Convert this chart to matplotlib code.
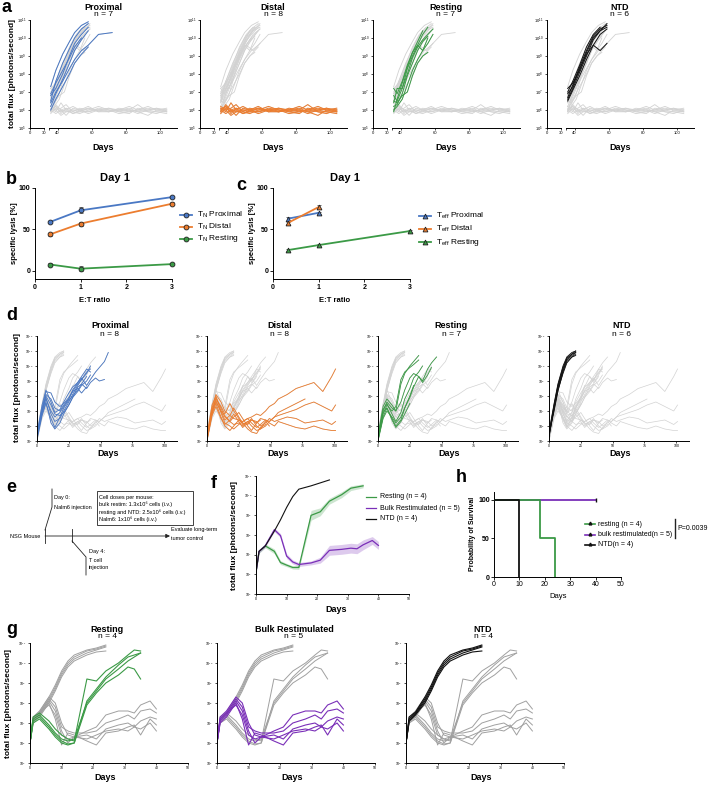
import matplotlib
matplotlib.use("Agg")
import matplotlib.pyplot as plt
import numpy as np
from matplotlib.patches import Rectangle
from matplotlib.ticker import NullLocator

plt.rcParams['font.family'] = ['Liberation Sans', 'DejaVu Sans']
plt.rcParams['mathtext.fontset'] = 'custom'
plt.rcParams['mathtext.rm'] = 'Liberation Sans'
plt.rcParams['mathtext.it'] = 'Liberation Sans:italic'
plt.rcParams['mathtext.bf'] = 'Liberation Sans:bold'
plt.rcParams['axes.linewidth'] = 0.7
plt.rcParams['axes.facecolor'] = 'none'

W, H = 708, 786

BLUE = '#4a78c4'
ORANGE = '#ec7d2f'
GREEN = '#3b9a46'
PURPLE = '#7a2fb8'
BLACK = '#111111'
LGREY = '#d2d2d2'
MGREY = '#a0a0a0'

# ---- panel a: log10 total flux, re-challenge ----
a_prox_days = [36, 39, 43, 47, 50, 54, 58, 64, 72]
a_prox_flux = [
    [7.3, 8.2, 9.1, 9.8, 10.3, 10.7, 10.9],
    [6.5, 7.6, 8.6, 9.4, 10.0, 10.5, 10.8],
    [6.8, 7.2, 8.0, 9.0, 9.7, 10.2, 10.6],
    [6.2, 6.9, 7.7, 8.6, 9.3, 9.9, 10.4],
    [6.4, 7.0, 7.6, 8.3, 8.8, 9.3, 9.6, 10.2, 10.3],
    [6.0, 6.6, 7.3, 8.0, 8.6, 9.1, 9.5],
    [6.9, 7.5, 8.2, 8.9, 9.5, 10.0],
]
a_dist_days = [36, 39, 42, 45, 49, 53, 58, 64, 70, 76, 82, 87, 93, 98, 104]
a_dist_flux = [
    [6.0, 6.2, 5.8, 6.1, 6.0, 5.9, 6.1, 6.0, 5.9, 6.0, 6.1, 5.9, 6.0, 6.1, 6.0],
    [6.1, 5.9, 6.4, 6.0, 5.8, 6.0, 6.2, 5.9, 6.0, 5.9, 6.0, 6.3, 5.9, 5.9, 5.9],
    [5.9, 6.3, 6.0, 5.7, 6.1, 6.0, 5.9, 6.1, 6.0, 6.0, 5.9, 6.0, 6.1, 6.0, 6.1],
    [6.2, 6.0, 6.1, 6.3, 5.9, 5.8, 6.0, 6.0, 6.1, 5.9, 5.8, 6.1, 6.0, 5.9, 5.8],
    [5.8, 6.1, 5.9, 6.0, 6.2, 6.0, 5.8, 6.0, 5.9, 6.1, 6.0, 5.9, 5.7, 6.0, 5.9],
    [6.0, 5.8, 6.0, 5.9, 5.9, 6.1, 6.0, 6.2, 6.0, 5.8, 5.9, 6.0, 6.2, 6.0, 6.0],
    [6.1, 6.0, 5.7, 5.9, 6.0, 6.0, 6.1, 5.9, 5.9, 6.0, 6.0, 5.8, 6.0, 6.1, 5.9],
    [5.9, 6.2, 6.0, 6.1, 5.8, 5.9, 5.9, 6.0, 6.1, 6.0, 6.2, 6.0, 5.9, 5.8, 6.0],
]
a_rest_days = [36, 38, 41, 44, 47, 50, 53, 56, 59]
a_rest_flux = [
    [6.8, 6.5, 7.2, 8.3, 9.0, 9.6, 10.2, 10.6],
    [5.9, 6.6, 7.5, 8.4, 9.2, 9.8, 10.4],
    [6.4, 7.2, 7.2, 8.0, 8.9, 9.5, 9.9, 10.2, 10.5],
    [6.2, 6.3, 6.9, 7.9, 8.6, 9.3, 9.8, 10.1],
    [7.2, 6.9, 7.6, 8.5, 9.2, 9.6, 9.3, 10.0],
    [6.0, 6.2, 6.6, 7.4, 8.2, 8.8, 9.3, 9.7, 10.2],
    [6.5, 6.4, 6.8, 7.0, 7.9, 8.6, 9.0, 9.2],
]
a_ntd_days = [36, 39, 43, 47, 51, 55, 59]
a_ntd_flux = [
    [6.6, 7.2, 8.1, 9.0, 9.9, 10.4, 10.8],
    [6.7, 7.4, 8.4, 9.3, 10.1, 10.5, 10.7],
    [7.0, 7.6, 8.5, 9.5, 10.2, 10.6],
    [6.5, 7.1, 7.9, 8.8, 9.6, 10.2, 10.5],
    [6.9, 7.3, 8.3, 9.1, 9.6, 9.3, 9.7],
    [7.2, 7.5, 8.2, 9.2, 10.0, 10.4, 10.6],
]

# ---- panels b, c: specific lysis ----
et_ratio = [1 / 3, 1, 3]
b_prox = [59, 73, 89]
b_prox_err = [1.5, 3.5, 1.5]
b_dist = [44, 57, 81]
b_dist_err = [1.5, 2.5, 1.5]
b_rest = [7.5, 2.5, 8]
b_rest_err = [1.5, 3.0, 1.5]
c_prox = [63, 70]
c_prox_err = [2.5, 1.5]
c_dist = [58, 77]
c_dist_err = [2.0, 2.0]
c_rest = [25, 31, 48]
c_rest_err = [1.5, 1.5, 1.0]

# ---- panel d: log10 total flux, primary challenge ----
d_days = [0, 4, 7, 11, 14, 18, 21, 25, 28, 32, 35, 39, 42, 46, 49, 53, 56,
          63, 70, 77, 84, 91, 98, 101]
d_prox_flux = [
    [5.4, 7.2, 8.3, 8.2, 7.6, 7.3, 7.5, 7.9, 8.3, 8.8, 9.1, 9.5, 10.0],
    [5.2, 7.0, 8.1, 7.8, 7.2, 7.0, 7.4, 7.8, 8.4, 8.9, 9.3, 9.8, 9.6],
    [5.5, 7.4, 8.4, 7.6, 6.9, 7.1, 7.6, 8.2, 8.6, 8.9, 9.2, 8.7, 9.1, 9.6, 9.9, 10.3, 10.9],
    [5.3, 6.9, 7.8, 7.0, 6.6, 6.9, 7.3, 7.8, 8.3, 8.5, 8.2, 8.6],
    [5.1, 6.7, 7.5, 6.5, 5.9, 6.6, 7.2, 7.7, 8.0, 8.4, 8.8, 8.5, 8.9, 9.2, 9.0, 9.1],
    [5.4, 7.1, 8.0, 7.4, 6.8, 6.7, 6.9, 7.4, 7.9, 8.6, 8.8, 9.3],
    [5.2, 6.8, 7.6, 6.2, 5.8, 6.2, 6.8, 7.4, 7.9, 8.3, 8.7, 9.0, 9.4],
    [5.3, 7.0, 7.9, 6.8, 6.3, 6.5, 7.0, 7.6, 8.1, 8.7, 9.1, 9.6, 9.8],
]
d_dist_flux = [
    [5.3, 7.2, 8.1, 7.6, 7.0, 6.7, 6.5, 6.4, 6.3, 6.5, 6.6, 6.8, 6.7, 7.0, 7.3, 7.5,
     7.8, 8.1, 8.5, 8.7, 8.9, 8.3, 9.3, 9.8],
    [5.1, 6.9, 7.9, 7.2, 6.6, 6.3, 6.1, 6.2, 6.0, 6.3, 6.4, 6.2, 6.5, 6.4, 6.3, 6.6,
     6.7, 6.9, 7.1, 7.4, 7.6, 7.3, 7.0, 7.4],
    [5.4, 7.4, 8.0, 7.0, 6.4, 6.7, 7.2, 6.6, 6.2, 6.1, 6.4, 6.3, 6.0, 6.2, 6.5, 6.3,
     6.4, 6.6, 6.5, 6.2, 6.3, 6.4, 6.1, 6.3],
    [5.2, 7.0, 7.7, 6.9, 6.2, 6.0, 5.8, 6.1, 6.3, 6.5, 6.2, 5.9, 6.1, 6.4, 6.2, 6.0,
     6.3, 6.1, 5.9, 5.8, 6.0, 5.8, 5.7, 5.7],
    [5.3, 7.1, 7.8, 7.3, 6.8, 7.5, 7.0, 6.5, 6.1, 6.3, 6.0, 5.7, 5.8, 6.0, 6.3, 6.6,
     6.9, 7.2, 7.5, 7.8],
    [5.0, 6.8, 7.5, 6.6, 6.0, 5.7, 6.0, 6.4, 6.2, 5.8, 5.6, 5.5, 5.9, 6.1],
    [5.2, 6.9, 7.6, 7.0, 6.7, 6.3, 6.6, 6.9, 6.5, 6.0, 5.7, 6.2, 6.4],
    [5.1, 6.7, 7.3, 6.5, 6.1, 6.4, 6.8, 6.3, 5.9, 6.2, 6.5, 6.0, 5.8, 6.3, 6.0],
]
d_rest_flux = [
    [5.2, 7.0, 7.6, 7.2, 7.0, 8.8, 9.5, 10.0, 10.3, 10.7],
    [5.0, 6.8, 7.4, 7.0, 7.3, 9.1, 9.6, 9.9, 10.1, 10.4],
    [5.3, 7.1, 7.5, 6.8, 6.3, 6.9, 7.8, 8.5, 9.2, 9.6, 10.0],
    [5.1, 6.6, 7.2, 6.5, 6.0, 6.4, 7.2, 7.9, 8.6, 9.3, 9.0, 9.8, 10.2, 10.6],
    [5.4, 7.3, 7.8, 7.4, 7.0, 7.6, 8.4, 9.2, 9.5, 9.3, 8.9, 9.4, 9.9],
    [5.2, 6.9, 7.2, 6.4, 5.9, 6.3, 6.8, 7.5],
    [5.0, 6.5, 7.0, 6.6, 6.2, 6.6, 7.2, 8.0, 8.7],
]
d_ntd_flux = [
    [5.5, 7.4, 8.7, 9.9, 10.5, 10.8, 11.0],
    [5.3, 7.2, 8.5, 9.7, 10.4, 10.7, 10.9],
    [5.6, 7.5, 8.8, 10.0, 10.6, 10.9, 11.0],
    [5.4, 7.0, 8.3, 9.6, 10.3, 10.6, 10.8],
    [5.2, 7.3, 8.6, 9.8, 10.5, 10.8, 10.9],
    [5.5, 7.1, 8.4, 9.5, 10.2, 10.6, 10.7],
]

# ---- panel f: group means (log10) with SEM band ----
f_rest_days = [0, 1, 3, 6, 8, 10, 12, 14, 18, 21, 24, 28, 31, 35]
f_rest = [6.1, 7.17, 7.45, 7.17, 6.6, 6.47, 6.35, 6.35, 9.0, 9.18, 9.72, 10.05, 10.38, 10.5]
f_rest_sem = [0.05, 0.1, 0.1, 0.12, 0.1, 0.08, 0.08, 0.1, 0.25, 0.2, 0.15, 0.15, 0.12, 0.1]
f_bulk_days = [0, 1, 3, 6, 8, 10, 12, 14, 18, 21, 24, 28, 31, 33, 35, 38, 40]
f_bulk = [6.1, 7.17, 7.45, 8.27, 7.97, 6.93, 6.63, 6.5, 6.58, 6.72, 7.22, 7.27, 7.33, 7.3,
          7.5, 7.72, 7.47]
f_bulk_sem = [0.05, 0.08, 0.08, 0.1, 0.1, 0.12, 0.1, 0.1, 0.1, 0.15, 0.25, 0.25, 0.25,
              0.25, 0.25, 0.2, 0.2]
f_ntd_days = [0, 1, 3, 6, 8, 10, 12, 14, 18, 21, 24]
f_ntd = [6.1, 7.17, 7.43, 8.2, 8.77, 9.4, 9.95, 10.33, 10.5, 10.65, 10.8]

# ---- panel g: individual mice (log10) ----
g_days = [0, 1, 3, 6, 8, 10, 12, 14, 18, 21, 24, 28, 31, 33, 35, 38, 40]
g_rest_flux = [
    [6.0, 7.3, 7.5, 7.1, 6.7, 6.4, 6.2, 6.1, 9.2, 9.1, 9.6, 10.0, 10.4, 10.65, 10.6],
    [6.0, 7.2, 7.4, 6.9, 6.5, 6.2, 6.1, 6.2, 8.0, 8.6, 9.2, 9.7, 10.1, 10.3, 10.5],
    [6.0, 7.1, 7.3, 6.8, 6.4, 6.1, 5.95, 6.0, 7.9, 8.5, 9.0, 9.4, 9.8, 9.7, 9.2],
    [6.0, 7.0, 7.2, 6.7, 6.3, 6.0, 5.9, 6.0, 8.1, 8.7, 9.3, 9.9, 10.3, 10.4, 10.5],
]
g_bulk_flux = [
    [6.1, 7.3, 7.6, 8.3, 8.0, 7.0, 6.4, 6.3, 6.6, 6.8, 7.4, 7.6, 7.6, 7.5, 7.9, 8.1, 7.7],
    [6.0, 7.2, 7.5, 8.2, 7.8, 6.8, 6.6, 6.5, 6.5, 6.6, 7.0, 7.2, 7.4, 7.2, 7.6, 7.7, 7.5],
    [6.0, 7.1, 7.4, 8.1, 7.6, 6.6, 6.0, 6.3, 6.4, 6.2, 6.7, 6.9, 7.0, 6.8, 7.1, 7.3, 7.2],
    [6.0, 7.0, 7.3, 8.0, 7.2, 5.9, 6.5, 6.4, 6.1, 5.9, 6.5, 6.6, 6.8, 6.9, 6.4, 7.2, 6.9],
    [6.0, 7.2, 7.5, 7.9, 7.4, 6.4, 6.2, 6.3, 6.2, 6.4, 6.6, 6.7, 6.6, 6.8, 6.7, 7.0, 6.6],
]
g_ntd_flux = [
    [6.0, 7.2, 7.5, 8.2, 8.8, 9.5, 10.0, 10.3, 10.6, 10.7, 10.85],
    [6.0, 7.1, 7.45, 8.1, 8.7, 9.4, 9.9, 10.2, 10.5, 10.65, 10.8],
    [6.0, 7.3, 7.55, 8.3, 8.9, 9.6, 10.1, 10.4, 10.65, 10.75, 10.9],
    [6.0, 7.1, 7.4, 8.0, 8.6, 9.3, 9.8, 10.1, 10.4, 10.55, 10.6],
]

# ---- panel h: survival ----
h_rest_days = [0, 18, 24]
h_rest_surv = [100, 50, 0]
h_bulk_days = [0, 40]
h_bulk_surv = [100, 100]
h_ntd_days = [0, 10]
h_ntd_surv = [100, 0]


def box(x0, y0, x1, y1):
    return [x0 / W, 1 - y1 / H, (x1 - x0) / W, (y1 - y0) / H]


def clean(ax):
    ax.spines['top'].set_visible(False)
    ax.spines['right'].set_visible(False)


def log_y(ax, lo, hi, fs=3):
    ax.set_yscale('log')
    ax.set_ylim(10 ** lo, 10 ** hi)
    ax.set_yticks([10.0 ** k for k in range(lo, hi + 1)])
    ax.yaxis.set_minor_locator(NullLocator())
    ax.tick_params(axis='both', labelsize=fs, length=1.5, width=0.5, pad=1)


def draw_mice(ax, days, flux, color, lw):
    for vals in flux:
        ax.plot(days[:len(vals)], 10 ** np.array(vals), color=color, lw=lw)


fig = plt.figure(figsize=(W / 100, H / 100), dpi=100)
ov = fig.add_axes([0, 0, 1, 1], zorder=10)
ov.set_xlim(0, W)
ov.set_ylim(H, 0)
ov.set_axis_off()

# panel letters
for letter, x, y in [('a', 2, 8), ('b', 6, 180), ('c', 236, 185), ('d', 6, 316),
                     ('e', 6, 488), ('f', 211, 483), ('g', 6, 629), ('h', 456, 478)]:
    ov.text(x, y, letter, fontsize=13, fontweight='bold', va='center', ha='left')

# ---------------- panel a ----------------
a_sets = [(a_prox_days, a_prox_flux), (a_dist_days, a_dist_flux),
          (a_rest_days, a_rest_flux), (a_ntd_days, a_ntd_flux)]
a_info = [('Proximal', 'n = 7', BLUE), ('Distal', 'n = 8', ORANGE),
          ('Resting', 'n = 7', GREEN), ('NTD', 'n = 6', BLACK)]
for i, x0 in enumerate([30, 200, 373, 547]):
    axs = fig.add_axes(box(x0, 20, x0 + 14, 128))
    axm = fig.add_axes(box(x0 + 19, 20, x0 + 147, 128))
    for ax in (axs, axm):
        clean(ax)
        log_y(ax, 5, 11)
    axs.set_xlim(0, 30)
    axs.set_xticks([0, 30])
    axm.set_xlim(35, 110)
    axm.set_xticks([35, 40, 60, 80, 100])
    axm.set_xticklabels(['', '40', '60', '80', '100'])
    axm.spines['left'].set_visible(False)
    axm.tick_params(axis='y', left=False, labelleft=False)
    for days, flux in a_sets:
        draw_mice(axm, days, flux, LGREY, 0.6)
    days, flux = a_sets[i]
    name, n, col = a_info[i]
    draw_mice(axm, days, flux, col, 0.7)
    ov.text(x0 + 73, 7, name, fontsize=6.5, fontweight='bold', ha='center', va='center')
    ov.text(x0 + 73, 15, n, fontsize=6, ha='center', va='center')
    ov.text(x0 + 73, 147, 'Days', fontsize=6.5, fontweight='bold', ha='center', va='center')
ov.text(13, 74, 'total flux [photons/second]', fontsize=6, fontweight='bold',
        rotation=90, ha='center', va='center')

# ---------------- panels b, c ----------------
def lysis_axes(x0, x1):
    ax = fig.add_axes(box(x0, 188, x1, 279))
    clean(ax)
    ax.set_xlim(0, 3)
    ax.set_ylim(-10, 100)
    ax.set_xticks([0, 1, 2, 3])
    ax.set_yticks([0, 50, 100])
    ax.tick_params(labelsize=5, length=2, width=0.6, pad=1.5)
    for lab in ax.get_xticklabels() + ax.get_yticklabels():
        lab.set_fontweight('bold')
    return ax


axb = lysis_axes(35, 172)
for vals, err, col in [(b_prox, b_prox_err, BLUE), (b_dist, b_dist_err, ORANGE),
                       (b_rest, b_rest_err, GREEN)]:
    axb.errorbar(et_ratio, vals, yerr=err, color=col, lw=1.3, marker='o', ms=3.5,
                 mfc=col, mec='#222222', mew=0.6, ecolor='#555555', elinewidth=0.6,
                 capsize=1.2, clip_on=False)
ov.text(115, 178, 'Day 1', fontsize=8, fontweight='bold', ha='center', va='center')
ov.text(95, 300, 'E:T ratio', fontsize=5.5, fontweight='bold', ha='center', va='center')
ov.text(15, 233, 'specific lysis [%]', fontsize=5.5, fontweight='bold', rotation=90,
        ha='center', va='center')

axc = lysis_axes(273, 410)
for xs, vals, err, col in [(et_ratio[:2], c_prox, c_prox_err, BLUE),
                           (et_ratio[:2], c_dist, c_dist_err, ORANGE),
                           (et_ratio, c_rest, c_rest_err, GREEN)]:
    axc.errorbar(xs, vals, yerr=err, color=col, lw=1.3, marker='^', ms=3.5,
                 mfc=col, mec='#222222', mew=0.6, ecolor='#555555', elinewidth=0.6,
                 capsize=1.2, clip_on=False)
ov.text(345, 178, 'Day 1', fontsize=8, fontweight='bold', ha='center', va='center')
ov.text(335, 300, 'E:T ratio', fontsize=5.5, fontweight='bold', ha='center', va='center')
ov.text(252, 233, 'specific lysis [%]', fontsize=5.5, fontweight='bold', rotation=90,
        ha='center', va='center')

# legends for b and c
for j, (col, lab) in enumerate([(BLUE, 'Proximal'), (ORANGE, 'Distal'), (GREEN, 'Resting')]):
    y = 215 + j * 12
    ov.plot([180, 192], [y, y], color=col, lw=1.3)
    ov.plot([186], [y], marker='o', ms=3.5, color=col, mec='#222222', mew=0.6)
    ov.text(197, y, r'T$_{\mathregular{N}}$ ' + lab, fontsize=6, va='center', ha='left')
    y = 216 + j * 13
    ov.plot([419, 431], [y, y], color=col, lw=1.3)
    ov.plot([425], [y], marker='^', ms=3.5, color=col, mec='#222222', mew=0.6)
    ov.text(436, y, r'T$_{\mathregular{eff}}$ ' + lab, fontsize=6, va='center', ha='left')

# ---------------- panel d ----------------
d_sets = [d_prox_flux, d_dist_flux, d_rest_flux, d_ntd_flux]
d_info = [('Proximal', 'n = 8', BLUE), ('Distal', 'n = 8', ORANGE),
          ('Resting', 'n = 7', GREEN), ('NTD', 'n = 6', BLACK)]
for i, x0 in enumerate([37, 207, 378, 549]):
    ax = fig.add_axes(box(x0, 336, x0 + 140, 441))
    clean(ax)
    log_y(ax, 5, 12, fs=2.5)
    ax.set_xlim(0, 110)
    ax.set_xticks([0, 25, 50, 75, 100])
    for flux in d_sets:
        draw_mice(ax, d_days, flux, LGREY, 0.5)
    name, n, col = d_info[i]
    draw_mice(ax, d_days, d_sets[i], col, 0.6)
    ov.text(x0 + 73, 326, name, fontsize=6.5, fontweight='bold', ha='center', va='center')
    ov.text(x0 + 73, 335, n, fontsize=6, ha='center', va='center')
    ov.text(x0 + 71, 453, 'Days', fontsize=6.5, fontweight='bold', ha='center', va='center')
ov.text(18, 388, 'total flux [photons/second]', fontsize=6, fontweight='bold',
        rotation=90, ha='center', va='center')

# ---------------- panel e (schematic) ----------------
kw = dict(color='#222222', lw=0.6)
ov.annotate('', xy=(170, 536), xytext=(45, 536),
            arrowprops=dict(arrowstyle='-|>', lw=0.6, color='#222222', mutation_scale=6,
                            shrinkA=0, shrinkB=0))
ov.plot([45, 45], [529, 543], **kw)
ov.plot([45, 52, 52], [530, 507, 489], **kw)
ov.plot([72, 72], [529, 542], **kw)
ov.plot([72, 86, 86], [541, 557, 575], **kw)
efs = 4.0
ov.text(10, 536, 'NSG Mouse', fontsize=efs, va='center', ha='left')
ov.text(54, 498, 'Day 0:', fontsize=efs, va='center', ha='left')
ov.text(54, 507, 'Nalm6 injection', fontsize=efs, va='center', ha='left')
ov.text(89, 552, 'Day 4:', fontsize=efs, va='center', ha='left')
ov.text(89, 560, 'T cell', fontsize=efs, va='center', ha='left')
ov.text(89, 568, 'injection', fontsize=efs, va='center', ha='left')
ov.text(171, 530, 'Evaluate long-term', fontsize=efs, va='center', ha='left')
ov.text(171, 539, 'tumor control', fontsize=efs, va='center', ha='left')
ov.add_patch(Rectangle((97, 491), 96, 34, fill=False, lw=0.6, ec='#222222'))
for k, line in enumerate(['Cell doses per mouse:',
                          'bulk restim: 1.3x10\u2076 cells (i.v.)',
                          'resting and NTD: 2.5x10\u2076 cells (i.v.)',
                          'Nalm6: 1x10\u2076 cells (i.v.)']):
    ov.text(99, 497 + k * 7.5, line, fontsize=efs, va='center', ha='left')

# ---------------- panel f ----------------
axf = fig.add_axes(box(256, 476, 409, 594))
clean(axf)
log_y(axf, 5, 11, fs=2.5)
axf.set_xlim(0, 50)
axf.set_xticks([0, 10, 20, 30, 40, 50])
for days, mean, sem, col in [(f_rest_days, f_rest, f_rest_sem, GREEN),
                             (f_bulk_days, f_bulk, f_bulk_sem, PURPLE)]:
    m = np.array(mean)
    s = np.array(sem)
    axf.fill_between(days, 10 ** (m - s), 10 ** (m + s), color=col, alpha=0.25, lw=0)
    axf.plot(days, 10 ** m, color=col, lw=0.9)
axf.plot(f_ntd_days, 10 ** np.array(f_ntd), color=BLACK, lw=0.8)
ov.text(336, 610, 'Days', fontsize=6.5, fontweight='bold', ha='center', va='center')
ov.text(235, 535, 'total flux [photons/second]', fontsize=6, fontweight='bold',
        rotation=90, ha='center', va='center')
for j, (col, lab) in enumerate([(GREEN, 'Resting (n = 4)'),
                                (PURPLE, 'Bulk Restimulated (n = 5)'),
                                (BLACK, 'NTD (n = 4)')]):
    y = 497 + j * 11
    ov.plot([366, 376], [y, y], color=col, lw=0.9)
    ov.text(380, y, lab, fontsize=5, va='center', ha='left')

# ---------------- panel h ----------------
axh = fig.add_axes(box(494, 492, 621, 577))
clean(axh)
axh.set_xlim(0, 50)
axh.set_ylim(0, 110)
axh.set_xticks([0, 10, 20, 30, 40, 50])
axh.set_yticks([0, 50, 100])
axh.tick_params(labelsize=5, length=2, width=0.6, pad=1)
for lab in axh.get_yticklabels():
    lab.set_fontweight('bold')
axh.step(h_bulk_days, h_bulk_surv, where='post', color=PURPLE, lw=1.3, zorder=2)
axh.step(h_rest_days, h_rest_surv, where='post', color=GREEN, lw=1.3, zorder=3)
axh.step(h_ntd_days, h_ntd_surv, where='post', color=BLACK, lw=1.3, zorder=4)
axh.plot([h_bulk_days[-1]], [h_bulk_surv[-1]], marker='|', ms=3, color=BLACK, mew=1)
ov.text(558, 596, 'Days', fontsize=5.5, ha='center', va='center')
ov.text(473, 534, 'Probability of Survival', fontsize=5, fontweight='bold', rotation=90,
        ha='center', va='center')
for j, (col, lab) in enumerate([(GREEN, 'resting (n = 4)'),
                                (PURPLE, 'bulk restimulated(n = 5)'),
                                (BLACK, 'NTD(n = 4)')]):
    y = 524 + j * 10.5
    ov.plot([585, 595], [y, y], color=col, lw=1.2)
    ov.plot([590], [y - 1], marker='^', ms=2, color=BLACK)
    ov.text(598, y, lab, fontsize=5, va='center', ha='left')
ov.plot([675, 675], [519, 538], color='#222222', lw=1.0)
ov.text(677, 529, 'P=0.0039', fontsize=5, va='center', ha='left')

# ---------------- panel g ----------------
g_sets = [g_rest_flux, g_bulk_flux, g_ntd_flux]
g_info = [('Resting', 'n = 4', GREEN), ('Bulk Restimulated', 'n = 5', PURPLE),
          ('NTD', 'n = 4', BLACK)]
for i, x0 in enumerate([30, 217, 406]):
    ax = fig.add_axes(box(x0, 643, x0 + 158, 763))
    clean(ax)
    log_y(ax, 5, 11, fs=2.5)
    ax.set_xlim(0, 50)
    ax.set_xticks([0, 10, 20, 30, 40, 50])
    for k, flux in enumerate(g_sets):
        if k != i:
            draw_mice(ax, g_days, flux, MGREY, 0.7)
    name, n, col = g_info[i]
    draw_mice(ax, g_days, g_sets[i], col, 0.8)
    ov.text(x0 + 77, 629, name, fontsize=6.5, fontweight='bold', ha='center', va='center')
    ov.text(x0 + 77, 637, n, fontsize=6, ha='center', va='center')
    ov.text(x0 + 75, 778, 'Days', fontsize=6.5, fontweight='bold', ha='center', va='center')
ov.text(9, 703, 'total flux [photons/second]', fontsize=6, fontweight='bold',
        rotation=90, ha='center', va='center')

fig.savefig('out.png', dpi=100)
